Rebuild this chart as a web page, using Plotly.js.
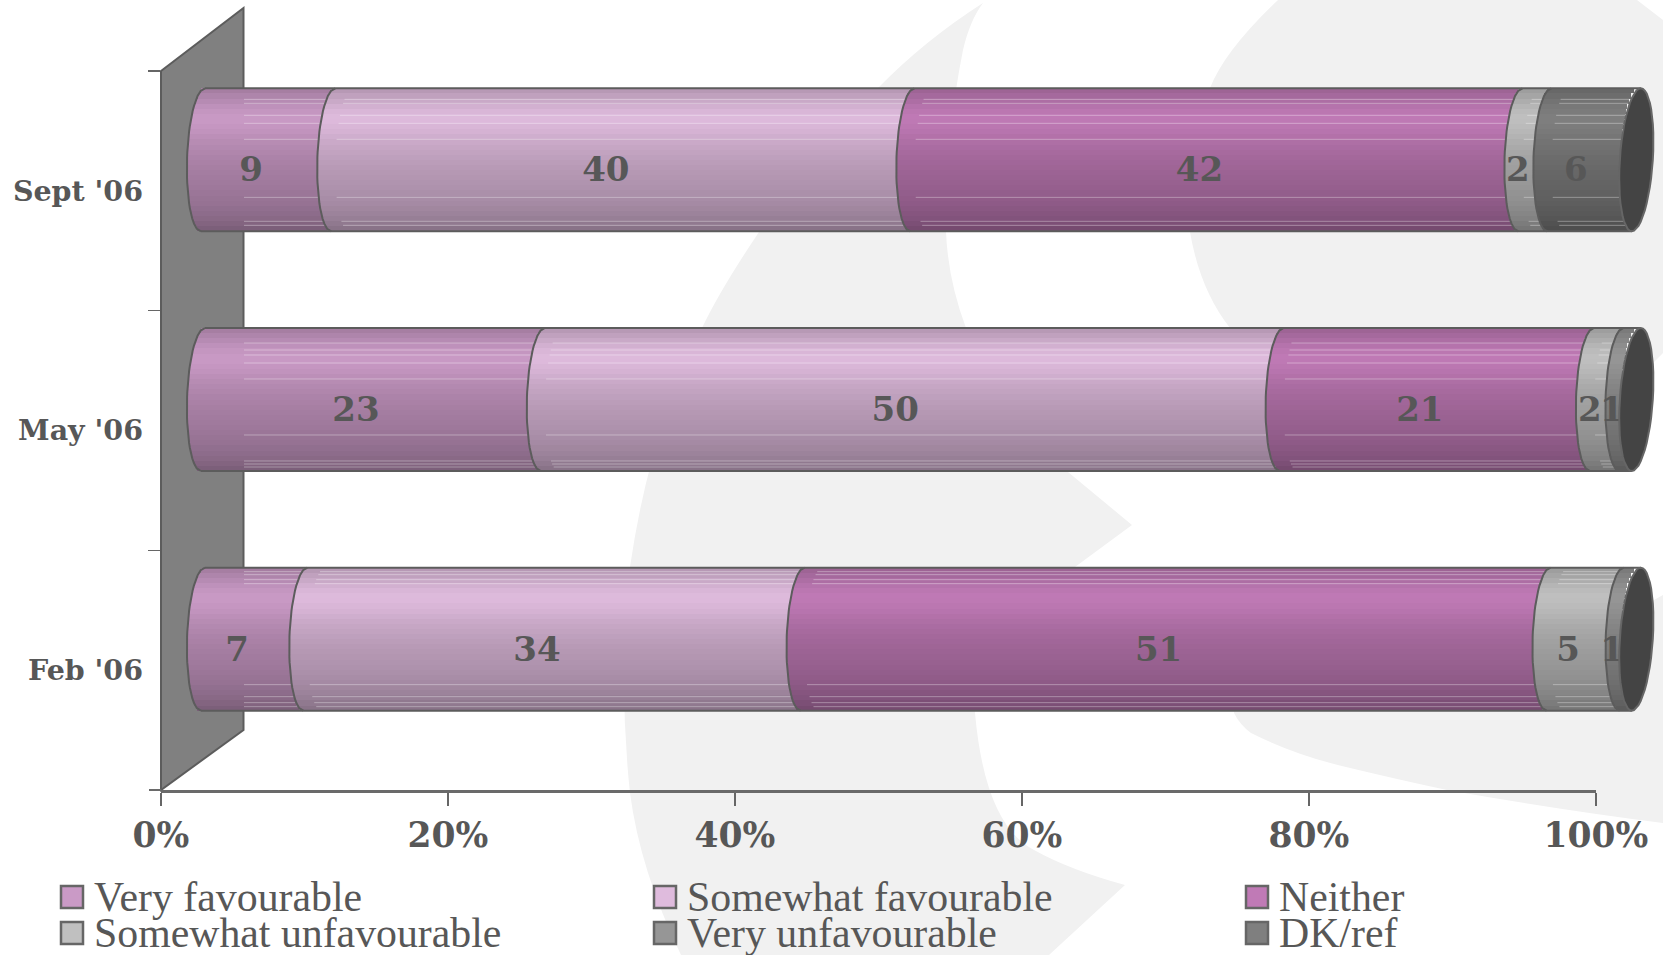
<!DOCTYPE html>
<html>
<head>
<meta charset="utf-8">
<title>Favourability, 2006</title>
<script src="https://cdn.plot.ly/plotly-3.0.1.min.js"></script>
<style>html,body{margin:0;padding:0;background:#fff;overflow:hidden}</style>
</head>
<body>
<div id="chart" style="width:1663px;height:955px"></div>
<script>
// Survey waves, bottom row first
const categories = ["Feb '06", "May '06", "Sept '06"];
const seriesNames = ["Very favourable", "Somewhat favourable", "Neither",
                     "Somewhat unfavourable", "Very unfavourable", "DK/ref"];
const veryFavourable = [7, 23, 9];
const somewhatFavourable = [34, 50, 40];
const neither = [51, 21, 42];
const somewhatUnfavourable = [5, 2, 2];
const veryUnfavourable = [1, 1, 0];
const dkRef = [0, 0, 6];
const seriesValues = [veryFavourable, somewhatFavourable, neither,
                      somewhatUnfavourable, veryUnfavourable, dkRef];
const seriesColors = ["#CA9AC6", "#DFBBDD", "#C07AB6", "#C0C0C0", "#969696", "#7F7F7F"];
const percentTicks = [0, 20, 40, 60, 80, 100];

// Page geometry
const W = 1663, H = 955;
const FRONT_LEFT = 161, FRONT_RIGHT = 1596, FRONT_TOP = 71, FRONT_BOTTOM = 790;
const BAND = (FRONT_BOTTOM - FRONT_TOP) / 3;     // pixels per category
const TUBE_ZERO = 203, PX = 14.333;              // tube origin and pixels per percentage point
const DEPTH_Y = 31;                              // cylinders sit mid-depth in the 3D box
const TUBE = 143, ROWS = 28;                     // cylinder height and number of shading rows
const BULGE = 16, SKEW = 2, CAP_BULGE = 16.5, CAP_SKEW = 4.5;

const INK = "#575757", EDGE = "#5c5c5c";
const SERIF = "DejaVu Serif, serif";

// Vertical shading of the tube: [pixels from top, brightness]
const shadeStops = [[0, .80], [10, .88], [20, .96], [30, 1], [40, .97], [55, .90], [70, .85],
                    [85, .81], [100, .78], [115, .74], [130, .68], [143, .60]];
function brightness(p) {
  for (let k = 1; k < shadeStops.length; k++) {
    if (p <= shadeStops[k][0]) {
      const [a, va] = shadeStops[k - 1], [b, vb] = shadeStops[k];
      return va + (vb - va) * (p - a) / (b - a);
    }
  }
  return .60;
}
function shaded(hex, f) {
  const c = [1, 3, 5].map(i => Math.round(parseInt(hex.slice(i, i + 2), 16) * f));
  return `rgb(${c[0]},${c[1]},${c[2]})`;
}

// Thin glints along the tube, pixels from its top edge, per category
const glints = [[4, 7, 12, 16, 117, 129, 135, 139],
                [15, 22, 27, 35, 51, 107, 133, 136, 139],
                [11, 15, 27, 35, 51, 109, 133, 137]];

// Position helpers for the tube subplot
const rowT = r => (r + .5) / ROWS * 2 - 1;
const rowY = (i, t) => i - t * (TUBE / 2) / BAND;
const curveX = (v, t, a = BULGE, sk = SKEW) => v + (-a * Math.sqrt(Math.max(0, 1 - t * t)) - sk * t) / PX;

// Cumulative 100% stacks per category
const totals = categories.map((_, i) => seriesValues.reduce((s, v) => s + v[i], 0));
const stackEdges = seriesValues.map((_, s) => categories.map((_, i) => {
  let low = 0;
  for (let k = 0; k < s; k++) low += seriesValues[k][i];
  return [low / totals[i] * 100, (low + seriesValues[s][i]) / totals[i] * 100];
}));

const traces = [];

// Lowest subplot: legend swatches, in page pixels
const legendCols = [72, 665, 1257], legendTextCols = [92, 685, 1277], legendRows = [897, 933];
seriesNames.forEach((name, s) => {
  traces.push({
    type: "scatter", mode: "markers", xaxis: "x", yaxis: "y", name, hoverinfo: "skip", showlegend: false,
    x: [legendCols[s % 3]], y: [legendRows[Math.floor(s / 3)]],
    marker: { symbol: "square", size: 22, color: seriesColors[s], line: { color: "#666", width: 2.5 } }
  });
});

// Front plane: carries the visible axes
traces.push({
  type: "scatter", mode: "markers", xaxis: "x2", yaxis: "y2", hoverinfo: "skip", showlegend: false,
  x: categories.map(() => 0), y: categories, marker: { opacity: 0 }
});

// Tube segments, one slice per shading row
seriesNames.forEach((name, s) => {
  const y = [], x = [], base = [], width = [], color = [];
  categories.forEach((_, i) => {
    const [c0, c1] = stackEdges[s][i];
    if (c1 <= c0) return;
    for (let r = 0; r < ROWS; r++) {
      const t = rowT(r);
      y.push(rowY(i, t));
      x.push(c1 - c0);
      base.push(curveX(c0, t));
      width.push(TUBE / ROWS / BAND);
      color.push(shaded(seriesColors[s], brightness((r + .5) * TUBE / ROWS)));
    }
  });
  traces.push({
    type: "bar", orientation: "h", xaxis: "x3", yaxis: "y3", name, hoverinfo: "skip", showlegend: false,
    x, y, base, width, marker: { color, line: { width: 0 } }
  });
});

// Glints start a little inside each segment, and at the wall edge on the first one
const glintX = [], glintY = [];
categories.forEach((_, i) => {
  seriesNames.forEach((_, s) => {
    const [c0, c1] = stackEdges[s][i];
    if ((c1 - c0) * PX < 22) return;
    glints[i].forEach(off => {
      const t = off / TUBE * 2 - 1;
      const start = c0 === 0 ? (244 - TUBE_ZERO) / PX : curveX(c0, t) + 18 / PX;
      glintX.push(start, curveX(c1, t), null);
      glintY.push(rowY(i, t), rowY(i, t), null);
    });
  });
});
traces.push({
  type: "scatter", mode: "lines", xaxis: "x3", yaxis: "y3", hoverinfo: "skip", showlegend: false,
  x: glintX, y: glintY, line: { color: "rgba(255,255,255,.34)", width: 1 }
});

// Segment outlines and the long top and bottom edges
const edgeX = [], edgeY = [];
categories.forEach((_, i) => {
  const cuts = [0];
  seriesNames.forEach((_, s) => {
    const [c0, c1] = stackEdges[s][i];
    if (c1 > c0) cuts.push(c1);
  });
  cuts.slice(0, -1).forEach(c => {
    for (let r = -1; r <= ROWS; r++) {
      const t = r < 0 ? -1 : r === ROWS ? 1 : rowT(r);
      edgeX.push(curveX(c, t));
      edgeY.push(rowY(i, t));
    }
    edgeX.push(null); edgeY.push(null);
  });
  [-1, 1].forEach(t => {
    edgeX.push(curveX(0, t), curveX(100, t, BULGE, CAP_SKEW), null);
    edgeY.push(rowY(i, t), rowY(i, t), null);
  });
});
traces.push({
  type: "scatter", mode: "lines", xaxis: "x3", yaxis: "y3", hoverinfo: "skip", showlegend: false,
  x: edgeX, y: edgeY, line: { color: EDGE, width: 2 }
});

// Value labels sit on the front of the tube, low and to the left of the segment centre
seriesNames.forEach((_, s) => {
  const x = [], y = [], text = [];
  categories.forEach((_, i) => {
    const v = seriesValues[s][i];
    if (!v) return;
    const [c0, c1] = stackEdges[s][i];
    x.push((c0 + c1) / 2 - 17 / PX);
    y.push(i - 13 / BAND);
    text.push(String(v));
  });
  traces.push({
    type: "scatter", mode: "text", xaxis: "x3", yaxis: "y3", hoverinfo: "skip", showlegend: false,
    x, y, text, textposition: "middle center", cliponaxis: false,
    textfont: { family: SERIF, size: 34, color: INK, weight: 700 }
  });
});

// Dark end caps close the tubes on the right
categories.forEach((_, i) => {
  const x = [], y = [];
  for (let k = 0; k <= 48; k++) {
    const a = k / 48 * 2 * Math.PI, t = Math.sin(a);
    x.push(100 + (CAP_BULGE * Math.cos(a) - CAP_SKEW * t) / PX);
    y.push(rowY(i, t));
  }
  traces.push({
    type: "scatter", mode: "lines", fill: "toself", fillcolor: "#444444", xaxis: "x3", yaxis: "y3",
    hoverinfo: "skip", showlegend: false, x, y, line: { color: "#666666", width: 2 }
  });
});

// Pale backdrop swooshes and the 3D side wall, in page pixels on the lowest subplot
const backdrop = "#f1f1f1";
const decor = (path, fill, line) => ({
  type: "path", xref: "x", yref: "y", layer: "below", path, fillcolor: fill,
  line: line || { width: 0 }
});
const shapes = [
  decor("M 983 3 Q 925 40 878 88 Q 805 160 759 232 Q 720 290 702 328 Q 650 430 630 567 " +
        "Q 618 680 630 793 Q 640 870 681 955 L 1049 955 L 1125 885 Q 1070 870 1034 850 " +
        "Q 985 825 975 713 Q 960 630 985 580 L 1075 567 L 1132 525 L 1068 472 " +
        "Q 1005 410 966 328 Q 948 280 946 232 Q 945 140 963 50 Q 970 20 983 3 Z", backdrop),
  decor("M 1278 0 Q 1225 50 1210 88 Q 1185 150 1190 232 Q 1200 290 1230 328 L 1290 440 " +
        "L 1600 440 L 1653 363 L 1663 353 L 1663 20 L 1637 0 Z", backdrop),
  decor("M 1663 595 L 1654 600 L 1500 640 L 1232 650 L 1234 713 Q 1240 725 1251 733 " +
        "Q 1295 755 1346 767 Q 1400 780 1447 790 Q 1560 810 1663 823 Z", backdrop),
  decor(`M ${FRONT_LEFT} ${FRONT_TOP} L 243.5 8 L 243.5 730 L ${FRONT_LEFT} ${FRONT_BOTTOM} Z`,
        "#808080", { color: EDGE, width: 2 }),
  // Lowest boundary tick on the category axis runs into the percentage axis
  { type: "line", xref: "x", yref: "y", layer: "below", x0: 149, x1: FRONT_LEFT,
    y0: FRONT_BOTTOM, y1: FRONT_BOTTOM, line: { color: "#6a6a6a", width: 2 } }
];

// Legend labels
const annotations = seriesNames.map((name, s) => ({
  xref: "x", yref: "y", x: legendTextCols[s % 3], y: legendRows[Math.floor(s / 3)],
  text: name, showarrow: false, xanchor: "left", yanchor: "middle",
  font: { family: "Liberation Serif, serif", size: 41.8, color: INK }
}));

const hidden = { visible: false, fixedrange: true };
const layout = {
  width: W, height: H, autosize: false, showlegend: false,
  margin: { l: 0, r: 0, t: 0, b: 0, pad: 0 },
  paper_bgcolor: "#ffffff", plot_bgcolor: "rgba(0,0,0,0)",
  barmode: "overlay", bargap: 0, bargroupgap: 0,
  // Page-pixel subplot
  xaxis: { ...hidden, domain: [0, 1], range: [0, W], anchor: "y" },
  yaxis: { ...hidden, domain: [0, 1], range: [H, 0], anchor: "x" },
  // Front plane with the visible scales
  xaxis2: {
    domain: [FRONT_LEFT / W, FRONT_RIGHT / W], range: [0, 100], anchor: "y2", fixedrange: true,
    tickmode: "array", tickvals: percentTicks, ticktext: percentTicks.map(p => p + "%"),
    ticks: "outside", ticklen: 13, tickwidth: 1.5, tickcolor: "#666", ticklabelstandoff: 0,
    showgrid: false, zeroline: false, showline: true, linecolor: "#6a6a6a", linewidth: 2.5,
    tickfont: { family: SERIF, size: 34.5, color: INK, weight: 700 }
  },
  yaxis2: {
    domain: [1 - FRONT_BOTTOM / H, 1 - FRONT_TOP / H], anchor: "x2", fixedrange: true,
    type: "category", categoryorder: "array", categoryarray: categories, range: [-.5, 2.5],
    tickson: "boundaries", ticks: "outside", ticklen: 12, tickwidth: 1.5, tickcolor: "#666",
    ticklabelstandoff: 17, ticklabelshift: 1.5,
    showgrid: false, zeroline: false, showline: false,
    tickfont: { family: SERIF, size: 28.5, color: INK, weight: 700 }
  },
  // Tube subplot, pushed up and right by half the box depth
  xaxis3: { ...hidden, anchor: "y3", domain: [0, 1], range: [-TUBE_ZERO / PX, (W - TUBE_ZERO) / PX] },
  yaxis3: { ...hidden, anchor: "x3",
    domain: [1 - (FRONT_BOTTOM - DEPTH_Y) / H, 1 - (FRONT_TOP - DEPTH_Y) / H], range: [-.5, 2.5] },
  shapes, annotations
};

Plotly.newPlot("chart", traces, layout, { displayModeBar: false, responsive: false, staticPlot: true });
</script>
</body>
</html>
